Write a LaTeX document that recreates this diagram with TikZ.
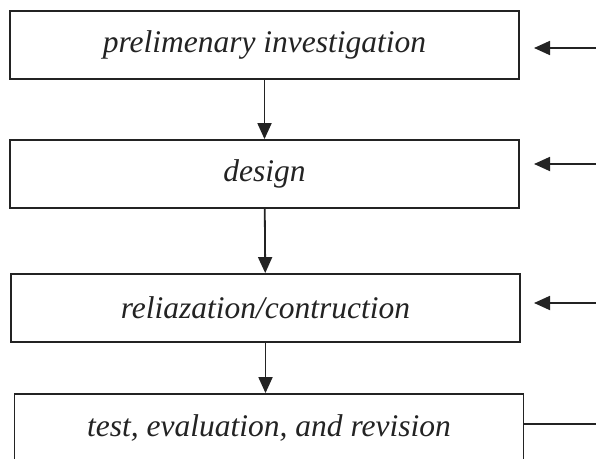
\documentclass[tikz,border=0pt]{standalone}
\usepackage{fontspec}
\setmainfont{Liberation Serif}
\usetikzlibrary{arrows.meta,calc,positioning}
\definecolor{stageline}{RGB}{35,35,35}

\begin{document}
\begin{tikzpicture}[x=1pt,y=-1pt,>={Triangle[length=16pt,width=14pt]},
 line width=1.8pt,draw=stageline,
 every node/.style={rectangle,draw=stageline,line width=1.8pt,fill=white,
 font=\fontsize{31.5}{34}\selectfont\itshape,text=stageline,
 minimum width=509pt,minimum height=68pt,inner sep=0pt}]
 \useasboundingbox (0,0) rectangle (596,458);
 \clip (0,0) rectangle (596,458);
 \node (prelim) at (264.5,45) {prelimenary investigation};
 \node (design) at (264.5,174) {design};
 \node (real) at (265.5,308) {reliazation/contruction};
 \node (test) at (269,428) {test, evaluation, and revision};
 \coordinate (in1) at (596,48);
 \coordinate (in2) at (596,164);
 \coordinate (in3) at (596,303);
 \coordinate (tip1) at (534,48);
 \coordinate (tip2) at (534,164);
 \coordinate (tip3) at (534,303);
 \coordinate (out4) at (596,424);
 \foreach \x/\y in {prelim/design,design/real}
   \draw[->] (\x) -- (\y);
 \draw[->] (real.south) -- (real.south |- test.north);
 \foreach \x/\y in {in1/tip1,in2/tip2,in3/tip3}
   \draw[->] (\x) -- (\y);
 \draw (test.east |- out4) -- (out4);
\end{tikzpicture}
\end{document}
